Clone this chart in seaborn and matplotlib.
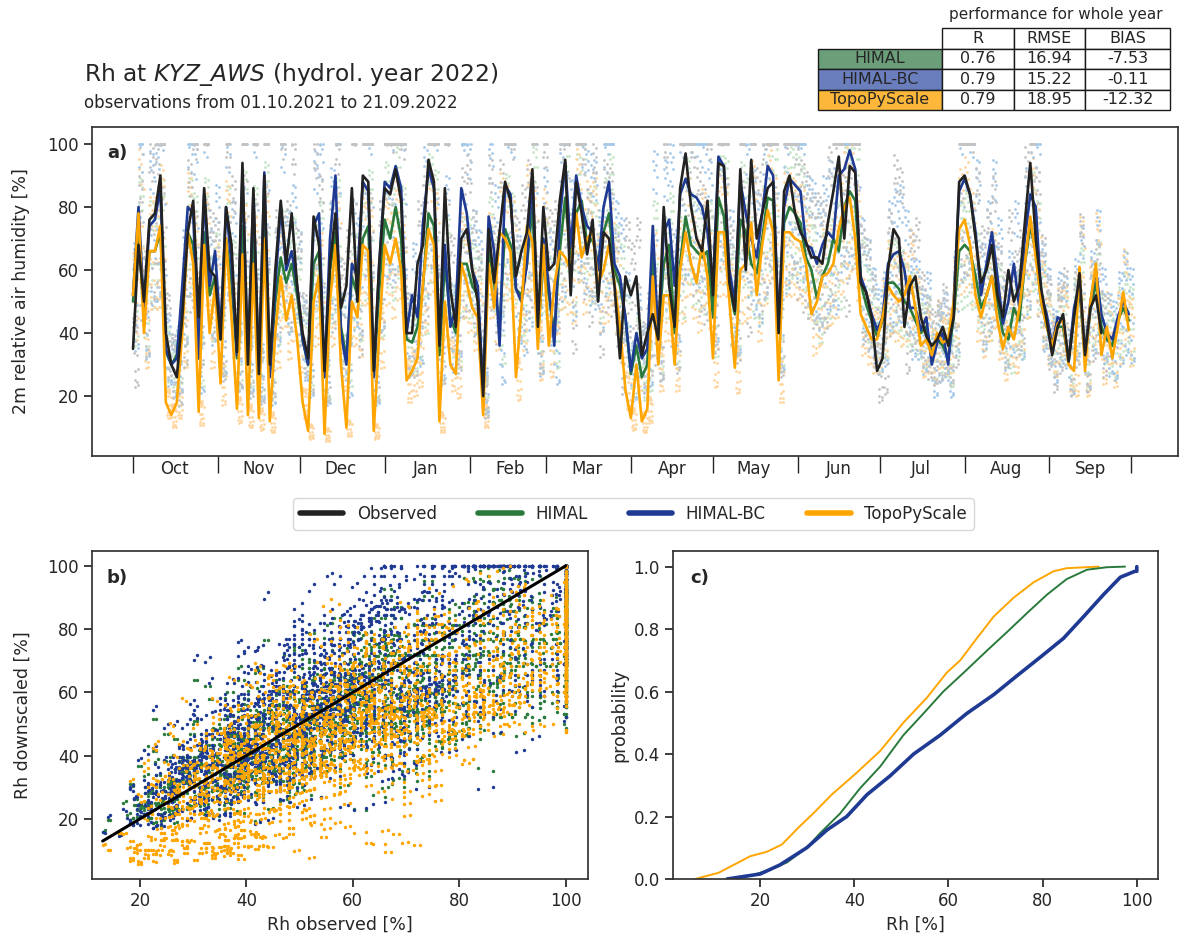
import numpy as np
import pandas as pd
import matplotlib
matplotlib.use("Agg")
import matplotlib.pyplot as plt
import matplotlib.dates as mdates
from matplotlib.lines import Line2D
from matplotlib.table import Table
from matplotlib.ticker import NullFormatter, FixedLocator
import seaborn as sns

sns.set_theme(style="ticks")
plt.rcParams["font.family"] = ["DejaVu Sans"]
plt.rcParams.update({"xtick.labelsize": 12, "ytick.labelsize": 12,
                     "axes.labelsize": 12.5, "axes.edgecolor": "#333333"})

# daily-mean Rh [%], every second day from 01.10.2021
START = "2021-10-01"
OBS = [
    35, 68, 50, 76, 78, 90, 40, 30, 26, 45,
    72, 82, 45, 86, 60, 58, 38, 80, 68, 34,
    94, 30, 86, 27, 90, 30, 60, 82, 62, 78,
    55, 40, 32, 77, 68, 28, 62, 78, 48, 55,
    86, 50, 90, 88, 28, 62, 86, 84, 92, 82,
    40, 40, 62, 68, 95, 88, 36, 86, 54, 42,
    70, 73, 60, 50, 20, 73, 56, 72, 88, 82,
    58, 66, 72, 92, 42, 80, 60, 62, 82, 95,
    52, 88, 78, 65, 76, 50, 72, 70, 55, 32,
    58, 52, 58, 33, 40, 46, 38, 80, 55, 42,
    86, 97, 80, 70, 66, 82, 52, 94, 93, 56,
    47, 92, 60, 95, 70, 78, 86, 88, 40, 85,
    90, 78, 72, 69, 64, 64, 62, 75, 85, 96,
    70, 93, 91, 56, 53, 45, 28, 32, 60, 73,
    70, 42, 55, 58, 45, 39, 36, 38, 42, 36,
    45, 88, 90, 84, 70, 56, 60, 68, 52, 45,
    60, 50, 55, 75, 94, 70, 54, 44, 33, 42,
    46, 31, 45, 59, 33, 48, 52, 40,
]
HIMAL = [
    50, 72, 46, 66, 66, 72, 34, 30, 33, 50,
    72, 68, 32, 72, 52, 58, 38, 70, 56, 32,
    74, 32, 70, 28, 76, 27, 50, 64, 56, 62,
    52, 38, 30, 62, 66, 26, 60, 72, 42, 32,
    58, 52, 70, 74, 26, 54, 76, 70, 80, 70,
    38, 37, 42, 55, 78, 74, 33, 62, 45, 40,
    62, 62, 55, 52, 21, 67, 56, 42, 73, 68,
    54, 52, 62, 80, 40, 62, 52, 40, 66, 83,
    64, 78, 82, 68, 70, 62, 72, 78, 60, 55,
    45, 27, 36, 26, 30, 66, 38, 62, 68, 40,
    62, 77, 68, 66, 64, 66, 45, 83, 77, 55,
    46, 76, 72, 62, 59, 70, 83, 82, 41, 75,
    80, 78, 75, 64, 60, 51, 58, 62, 70, 66,
    80, 85, 82, 56, 49, 44, 39, 44, 56, 56,
    54, 50, 48, 44, 40, 42, 33, 38, 36, 32,
    45, 66, 68, 66, 58, 48, 52, 58, 50, 40,
    38, 48, 44, 62, 74, 66, 50, 42, 36, 42,
    42, 31, 46, 54, 32, 48, 56, 42, 38, 36,
    44, 48, 44,
]
HIMAL_BC = [
    52, 80, 48, 74, 76, 86, 35, 30, 32, 55,
    80, 78, 32, 84, 55, 66, 40, 80, 62, 33,
    90, 32, 84, 28, 91, 26, 55, 80, 60, 66,
    55, 38, 30, 74, 78, 26, 70, 90, 40, 30,
    62, 58, 88, 85, 26, 62, 88, 86, 93, 86,
    40, 52, 45, 75, 92, 86, 38, 68, 42, 48,
    86, 78, 60, 55, 22, 77, 66, 36, 87, 84,
    54, 50, 62, 90, 40, 70, 55, 36, 76, 94,
    67, 90, 80, 74, 72, 60, 80, 88, 62, 58,
    45, 28, 40, 32, 35, 74, 38, 72, 76, 55,
    84, 89, 84, 83, 80, 72, 55, 96, 93, 60,
    50, 88, 78, 70, 64, 78, 93, 90, 42, 80,
    89, 87, 85, 68, 67, 62, 68, 72, 70, 90,
    92, 98, 92, 58, 53, 46, 41, 45, 62, 65,
    66, 60, 48, 48, 41, 45, 30, 37, 40, 30,
    50, 85, 89, 84, 72, 52, 62, 72, 58, 43,
    50, 62, 48, 70, 84, 80, 52, 46, 36, 45,
    44, 31, 48, 56, 33, 50, 60, 46, 40, 38,
    45, 50, 46,
]
TOPO = [
    52, 78, 40, 66, 66, 74, 18, 14, 18, 40,
    72, 62, 15, 68, 40, 55, 24, 70, 45, 16,
    65, 14, 62, 13, 70, 12, 40, 58, 44, 52,
    38, 18, 9, 50, 58, 8, 50, 68, 30, 10,
    50, 45, 68, 66, 9, 40, 68, 62, 70, 60,
    25, 28, 32, 56, 73, 68, 12, 50, 30, 27,
    62, 56, 48, 45, 14, 62, 48, 72, 70, 66,
    26, 48, 74, 69, 35, 68, 36, 55, 66, 64,
    60, 78, 64, 70, 72, 56, 60, 68, 56, 42,
    22, 13, 30, 12, 16, 58, 30, 52, 52, 30,
    60, 72, 62, 56, 68, 58, 32, 72, 72, 50,
    29, 60, 62, 75, 52, 68, 79, 72, 25, 72,
    72, 70, 69, 62, 46, 50, 58, 59, 62, 73,
    80, 83, 70, 46, 42, 38, 38, 45, 55, 52,
    50, 52, 58, 48, 36, 38, 33, 40, 37, 38,
    50, 73, 76, 68, 52, 45, 52, 58, 44, 35,
    42, 38, 48, 62, 77, 64, 50, 42, 36, 43,
    44, 30, 28, 61, 28, 50, 62, 33, 42, 32,
    42, 53, 41,
]

# typical 3-hourly departure over two days, in % of the two-day mean
# (gives the faint dots in a) and the cloud in b)
OBS_CYCLE = [20, 28, 32, 22, -4, -28, -35, -20, 16, 26, 30, 20, -6, -30, -33, -18]
HIMAL_CYCLE = [-16, 12, 22, 24, 16, -6, -24, -28, -14, 10, 20, 23, 16, -6, -22, -27]
BC_CYCLE = [-16, 16, 28, 32, 24, -4, -28, -34, -18, 14, 26, 31, 21, -6, -30, -32]
TOPO_CYCLE = [22, 26, 18, -4, -22, -28, -16, 12, 20, 24, 17, -5, -23, -27, -14, 10]

HIMAL_CDF_X = [12.9, 17.9, 22.1, 25.7, 29.9, 32.7, 37.0, 41.2, 45.5, 50.4, 54.7,
               58.9, 63.2, 68.1, 72.4, 76.6, 80.9, 85.1, 89.4, 93.6, 97.5]
HIMAL_CDF_P = [0, 0.01, 0.03, 0.053, 0.10, 0.146, 0.21, 0.29, 0.36, 0.46, 0.53,
               0.60, 0.66, 0.73, 0.79, 0.85, 0.91, 0.96, 0.99, 0.998, 1.0]
BC_CDF_X = [13.0, 20.0, 24.2, 29.9, 34.2, 38.4, 42.7, 47.6, 52.6, 58.2, 63.9,
            69.6, 74.5, 79.5, 84.4, 88.7, 92.9, 96.5, 99.6, 100.0, 100.0]
BC_CDF_P = [0, 0.016, 0.045, 0.10, 0.157, 0.20, 0.27, 0.33, 0.40, 0.46, 0.53,
            0.59, 0.65, 0.71, 0.77, 0.84, 0.91, 0.966, 0.985, 0.985, 1.0]
TOPO_CDF_X = [6.2, 11.2, 15.0, 17.9, 21.4, 24.6, 28.5, 31.3, 35.2, 40.5, 45.5,
              50.4, 55.4, 59.6, 62.5, 66.0, 69.6, 73.8, 78.1, 82.3, 85.1, 91.9]
TOPO_CDF_P = [0, 0.02, 0.05, 0.073, 0.087, 0.11, 0.17, 0.21, 0.27, 0.34, 0.41,
              0.50, 0.58, 0.66, 0.70, 0.77, 0.84, 0.90, 0.95, 0.985, 0.995, 1.0]

# performance table
MODELS = ["HIMAL", "HIMAL-BC", "TopoPyScale"]
STAT_R = [0.76, 0.79, 0.79]
STAT_RMSE = [16.94, 15.22, 18.95]
STAT_BIAS = [-7.53, -0.11, -12.32]

C_OBS, C_HIMAL, C_BC, C_TOPO = "#222222", "#2a7a3c", "#1f3a93", "#ffa500"
DOT_OBS, DOT_HIMAL, DOT_BC, DOT_TOPO = "#c4c4c4", "#c6e4c8", "#a6c9e8", "#ffd49c"
ROW_COLORS = ["#6b9f7a", "#6a7ebe", "#fdb73a"]


def dates(n):
    return pd.date_range(START, periods=n, freq="2D")


def sub_daily(daily, cycle):
    """3-hourly values spread around the two-day means, plus their time stamps."""
    t = dates(len(daily)).values[:, None] + (np.arange(len(cycle)) * 3).astype("timedelta64[h]")
    v = np.outer(np.asarray(daily, float), 1 + np.asarray(cycle, float) / 100)
    return t, np.clip(v, 0, 100)


series = [("HIMAL", HIMAL, HIMAL_CYCLE, C_HIMAL, DOT_HIMAL),
          ("HIMAL-BC", HIMAL_BC, BC_CYCLE, C_BC, DOT_BC),
          ("TopoPyScale", TOPO, TOPO_CYCLE, C_TOPO, DOT_TOPO),
          ("Observed", OBS, OBS_CYCLE, C_OBS, DOT_OBS)]
hourly = {name: sub_daily(d, cyc) for name, d, cyc, _, _ in series}
dot_col = {s[0]: s[4] for s in series}

W, H = 1184, 940
fig = plt.figure(figsize=(W / 100, H / 100), dpi=100)
ax_a = fig.add_axes([92 / W, 1 - 456 / H, 1086 / W, 329 / H])
ax_b = fig.add_axes([92 / W, 1 - 879 / H, 496 / W, 328 / H])
ax_c = fig.add_axes([673 / W, 1 - 879 / H, 485 / W, 328 / H])

# ---- a) time series
for name in ["HIMAL", "TopoPyScale", "HIMAL-BC", "Observed"]:
    t, v = hourly[name]
    sns.scatterplot(x=t.ravel(), y=v.ravel(), s=4, color=dot_col[name], linewidth=0,
                    ax=ax_a, legend=False, zorder=1)
for name, d, _, col, _ in series:
    sns.lineplot(x=dates(len(d)), y=d, color=col, lw=1.9, ax=ax_a,
                 estimator=None, legend=False, zorder=3)

ax_a.set_xlim(pd.Timestamp("2021-09-16"), pd.Timestamp("2022-10-18"))
ax_a.set_ylim(1, 105.4)
ax_a.set_yticks([20, 40, 60, 80, 100])
ax_a.set_ylabel("2m relative air humidity [%]")
ax_a.set_xlabel("")
month_starts = pd.date_range("2021-10-01", "2022-10-01", freq="MS")
mids = pd.date_range("2021-10-01", "2022-09-01", freq="MS") + pd.Timedelta(days=15)
ax_a.xaxis.set_major_locator(FixedLocator(mdates.date2num(month_starts)))
ax_a.xaxis.set_major_formatter(NullFormatter())
ax_a.xaxis.set_minor_locator(FixedLocator(mdates.date2num(mids)))
ax_a.xaxis.set_minor_formatter(mdates.DateFormatter("%b"))
ax_a.tick_params(axis="x", which="major", length=12, width=1)
ax_a.tick_params(axis="x", which="minor", length=0, pad=3)
ax_a.text(0.014, 0.92, "a)", transform=ax_a.transAxes, fontsize=13,
          fontweight="bold", va="center")

# ---- b) scatter observed vs downscaled
n_obs = len(OBS)
x_obs = hourly["Observed"][1].ravel()
for name, col in [("HIMAL", C_HIMAL), ("HIMAL-BC", C_BC), ("TopoPyScale", C_TOPO)]:
    y_mod = hourly[name][1][:n_obs].ravel()
    sns.scatterplot(x=x_obs, y=y_mod, s=6, color=col, linewidth=0, ax=ax_b, legend=False)
one = [x_obs.min(), 100]
sns.lineplot(x=one, y=one, color="black", lw=2.2, ax=ax_b, estimator=None)
ax_b.set_xlim(11, 104.2)
ax_b.set_ylim(1, 104.7)
ax_b.set_xticks([20, 40, 60, 80, 100])
ax_b.set_yticks([20, 40, 60, 80, 100])
ax_b.set_xlabel("Rh observed [%]")
ax_b.set_ylabel("Rh downscaled [%]")
ax_b.text(0.03, 0.918, "b)", transform=ax_b.transAxes, fontsize=13,
          fontweight="bold", va="center")

# ---- c) cumulative distributions
for cx, cp, col, lw in [(TOPO_CDF_X, TOPO_CDF_P, C_TOPO, 1.4),
                        (HIMAL_CDF_X, HIMAL_CDF_P, C_HIMAL, 1.4),
                        (BC_CDF_X, BC_CDF_P, C_BC, 2.6)]:
    sns.lineplot(x=cx, y=cp, color=col, lw=lw, ax=ax_c, sort=False, estimator=None)
ax_c.set_xlim(1.5, 104.5)
ax_c.set_ylim(0, 1.05)
ax_c.set_xticks([20, 40, 60, 80, 100])
ax_c.set_yticks([0, 0.2, 0.4, 0.6, 0.8, 1.0])
ax_c.set_xlabel("Rh [%]")
ax_c.set_ylabel("probability")
ax_c.text(0.035, 0.918, "c)", transform=ax_c.transAxes, fontsize=13,
          fontweight="bold", va="center")

for ax in (ax_a, ax_b, ax_c):
    for sp in ax.spines.values():
        sp.set_visible(True)
ax_a.yaxis.set_label_coords(-0.057, 0.5)
ax_b.yaxis.set_label_coords(-0.122, 0.5)

# ---- legend, titles, table
handles = [Line2D([], [], color=c, lw=4) for c in (C_OBS, C_HIMAL, C_BC, C_TOPO)]
fig.legend(handles, ["Observed", "HIMAL", "HIMAL-BC", "TopoPyScale"],
           loc="center", bbox_to_anchor=(633.5 / W, 1 - 514 / H), ncol=4,
           fontsize=12, handlelength=2.6, columnspacing=2.5, frameon=True)

fig.text(84 / W, 1 - 81 / H, r"Rh at $\it{KYZ\_AWS}$ (hydrol. year 2022)",
         fontsize=16.8, va="baseline")
fig.text(84 / W, 1 - 108 / H, "observations from 01.10.2021 to 21.09.2022",
         fontsize=12, va="baseline")
fig.text(1056 / W, 1 - 14 / H, "performance for whole year", fontsize=11,
         ha="center", va="center")

tax = fig.add_axes([818 / W, 1 - 110 / H, 352 / W, 82 / H])
tax.axis("off")
tbl = Table(tax, bbox=[0, 0, 1, 1])
col_w = [124, 72, 71, 85]
for j, head in enumerate(["R", "RMSE", "BIAS"]):
    tbl.add_cell(0, j + 1, col_w[j + 1], 1, text=head, loc="center")
for i, name in enumerate(MODELS):
    tbl.add_cell(i + 1, 0, col_w[0], 1, text=name, loc="center",
                 facecolor=ROW_COLORS[i])
    for j, val in enumerate([STAT_R[i], STAT_RMSE[i], STAT_BIAS[i]]):
        tbl.add_cell(i + 1, j + 1, col_w[j + 1], 1, text=f"{val:.2f}", loc="center")
tbl.auto_set_font_size(False)
tbl.set_fontsize(11.5)
tax.add_table(tbl)

fig.savefig("out.png", dpi=100)
